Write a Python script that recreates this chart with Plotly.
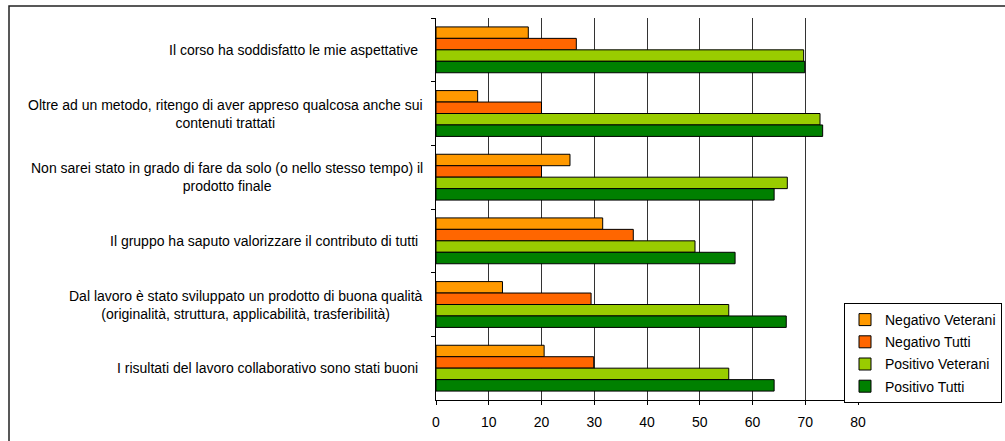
import plotly.graph_objects as go

categories = [
    "Il corso ha soddisfatto le mie aspettative",
    "Oltre ad un metodo, ritengo di aver appreso qualcosa anche sui<br>contenuti trattati",
    "Non sarei stato in grado di fare da solo (o nello stesso tempo) il<br>prodotto finale",
    "Il gruppo ha saputo valorizzare il contributo di tutti",
    "Dal lavoro è stato sviluppato un prodotto di buona qualità<br>(originalità, struttura, applicabilità, trasferibilità)",
    "I risultati del lavoro collaborativo sono stati buoni",
]
series_names = ["Negativo Veterani", "Negativo Tutti", "Positivo Veterani", "Positivo Tutti"]
negativo_veterani = [17.5, 7.9, 25.4, 31.6, 12.6, 20.5]
negativo_tutti = [26.6, 20.0, 20.0, 37.4, 29.4, 29.9]
positivo_veterani = [69.7, 72.8, 66.6, 49.1, 55.5, 55.5]
positivo_tutti = [69.9, 73.3, 64.1, 56.7, 66.4, 64.1]
x_ticks = [0, 10, 20, 30, 40, 50, 60, 70, 80]

colors = ["#FF9900", "#FF6600", "#99CC00", "#008000"]
values = [negativo_veterani, negativo_tutti, positivo_veterani, positivo_tutti]

FONT = "Liberation Sans, Arial, sans-serif"
FS = 14
W, H = 1005, 441
L, R, T, B = 436, 147, 18, 41
pw, ph = W - L - R, H - T - B

fig = go.Figure()
for name, vals, col in zip(series_names, values, colors):
    fig.add_trace(go.Bar(
        name=name, y=categories, x=vals, orientation="h",
        marker=dict(color=col, line=dict(color="#000000", width=1)),
        legendgroup=name,
    ))

annotations = []
for c in categories:
    right_px = 425 if "<br>" in c else 420
    annotations.append(dict(
        x=(right_px - L) / pw, xref="paper", y=c, yref="y",
        text=c, showarrow=False, xanchor="right", yanchor="middle",
        align="center", font=dict(family=FONT, size=FS, color="#000000"),
    ))

fig.update_layout(
    width=W, height=H,
    margin=dict(l=L, r=R, t=T, b=B, pad=0, autoexpand=False),
    paper_bgcolor="white", plot_bgcolor="white",
    barmode="group", bargap=0.28, bargroupgap=0,
    font=dict(family=FONT, size=FS, color="#000000"),
    xaxis=dict(
        range=[0, 80], tickvals=x_ticks, ticktext=[str(v) for v in x_ticks],
        showgrid=True, gridcolor="#333333", gridwidth=1,
        showline=True, linecolor="#000000", linewidth=1,
        ticks="outside", ticklen=4, tickcolor="#000000",
        ticklabelstandoff=5,
        tickfont=dict(family=FONT, size=FS, color="#000000"),
        zeroline=False, fixedrange=True,
    ),
    yaxis=dict(
        autorange="reversed", showticklabels=False,
        showline=True, linecolor="#000000", linewidth=1,
        ticks="outside", ticklen=4, tickcolor="#000000", tickson="boundaries",
        showgrid=False, zeroline=False, fixedrange=True,
    ),
    legend=dict(
        xref="container", yref="container",
        x=844 / W, y=1 - 303 / H, xanchor="left", yanchor="top",
        bordercolor="#000000", borderwidth=1, bgcolor="white",
        font=dict(family=FONT, size=FS, color="#000000"),
        traceorder="grouped", tracegroupgap=1, itemwidth=30,
    ),
    annotations=annotations,
    shapes=[dict(
        type="rect", xref="paper", yref="paper",
        x0=(9 - L) / pw, x1=(1150 - L) / pw,
        y0=(H - B - 500) / ph, y1=(H - B - 6) / ph,
        line=dict(color="#222222", width=1.5), fillcolor="rgba(0,0,0,0)",
        layer="below",
    )],
    showlegend=True,
)

fig.write_html(
    "out.html",
    config={"displayModeBar": False, "staticPlot": False},
    post_script="document.body.style.margin='0';document.body.style.overflow='hidden';",
)
